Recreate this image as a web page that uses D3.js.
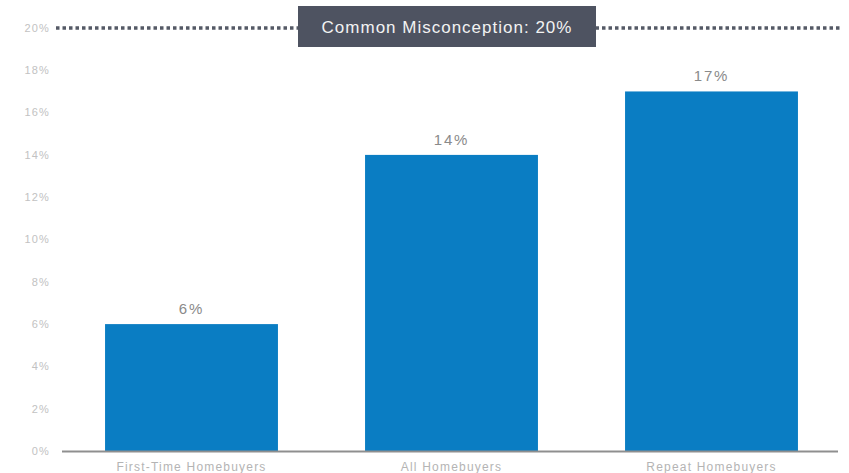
<!DOCTYPE html>
<html lang="en">
<head>
  <meta charset="utf-8" />
  <style>
    body { margin: 0; background: #fff; }
    text { font-family: "Liberation Sans", Arial, sans-serif; }
  </style>
</head>
<body>
<svg width="849" height="473"></svg>
<script src="https://d3js.org/d3.v7.min.js"></script>
<script>
var categories = ["First-Time Homebuyers", "All Homebuyers", "Repeat Homebuyers"],
    values = [6, 14, 17],
    yTicks = [0, 2, 4, 6, 8, 10, 12, 14, 16, 18, 20],
    misconception = 20,
    misconceptionLabel = "Common Misconception: 20%";

var svg = d3.select("svg");

var x = d3.scaleBand()
  .domain(categories)
  .range([61.5, 841.5])
  .paddingInner(0.335)
  .paddingOuter(0.1675);

var y = d3.scaleLinear()
  .domain([0, 20])
  .range([451, 28]);

// y tick labels
svg.selectAll(".ytick")
  .data(yTicks)
  .enter()
  .append("text")
  .attr("x", 50)
  .attr("y", function(d) { return y(d); })
  .attr("dy", "0.35em")
  .attr("text-anchor", "end")
  .style("font-size", "11px")
  .style("letter-spacing", "1.2px")
  .style("fill", "#c2c2c2")
  .text(function(d) { return d + "%"; });

// bars
svg.selectAll(".bar")
  .data(values)
  .enter()
  .append("rect")
  .attr("x", function(d, i) { return x(categories[i]); })
  .attr("y", function(d) { return y(d); })
  .attr("width", x.bandwidth())
  .attr("height", function(d) { return y(0) - y(d); })
  .style("fill", "#0a7dc3");

// value labels
svg.selectAll(".val")
  .data(values)
  .enter()
  .append("text")
  .attr("x", function(d, i) { return x(categories[i]) + x.bandwidth() / 2; })
  .attr("y", function(d) { return y(d) - 10; })
  .attr("text-anchor", "middle")
  .style("font-size", "15px")
  .style("letter-spacing", "1.8px")
  .style("fill", "#8a8a8a")
  .text(function(d) { return d + "%"; });

// baseline
svg.append("line")
  .attr("x1", 62)
  .attr("x2", 838)
  .attr("y1", y(0) + 0.5)
  .attr("y2", y(0) + 0.5)
  .style("stroke", "#8f8f8f")
  .style("stroke-width", 2);

// category labels
svg.selectAll(".cat")
  .data(categories)
  .enter()
  .append("text")
  .attr("x", function(d) { return x(d) + x.bandwidth() / 2; })
  .attr("y", 471)
  .attr("text-anchor", "middle")
  .style("font-size", "12px")
  .style("letter-spacing", "1.2px")
  .style("fill", "#b4b4b4")
  .text(function(d) { return d; });

// misconception dotted line
svg.append("line")
  .attr("x1", 56)
  .attr("x2", 840)
  .attr("y1", y(misconception))
  .attr("y2", y(misconception))
  .style("stroke", "#555a66")
  .style("stroke-width", 3.5)
  .style("stroke-dasharray", "3.5,3");

svg.append("rect")
  .attr("x", 298)
  .attr("y", 6)
  .attr("width", 298)
  .attr("height", 41)
  .style("fill", "#4e5361");

svg.append("text")
  .attr("x", 447)
  .attr("y", 27)
  .attr("dy", "0.35em")
  .attr("text-anchor", "middle")
  .style("font-size", "17px")
  .style("letter-spacing", "1px")
  .style("fill", "#f2f2f2")
  .text(misconceptionLabel);
</script>
</body>
</html>
